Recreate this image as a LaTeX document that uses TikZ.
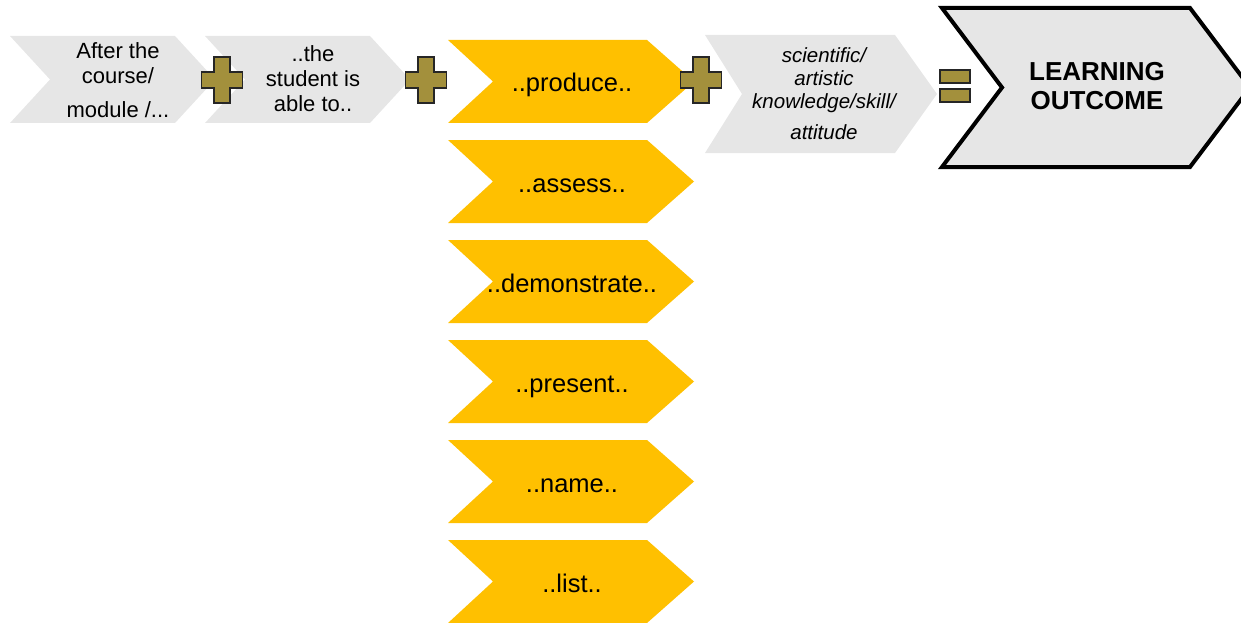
\documentclass[tikz,border=0pt]{standalone}
\usepackage{fontspec}
\setmainfont{Liberation Sans}
\definecolor{chevgray}{RGB}{230,230,230}
\definecolor{chevgold}{RGB}{255,192,0}
\definecolor{plusolive}{RGB}{163,144,60}
\tikzstyle{graybox}=[fill=chevgray]
\tikzstyle{goldbox}=[fill=chevgold]
\tikzstyle{outcomebox}=[fill=chevgray, draw=black, line width=4pt, line join=miter]
\tikzstyle{plusmark}=[fill=plusolive, draw=black!85, line width=1.5pt]
\tikzstyle{graytext}=[font=\fontsize{22}{25}\selectfont, align=center, inner sep=0pt]
\tikzstyle{goldtext}=[font=\fontsize{25.5}{30}\selectfont, inner sep=0pt, anchor=base]
\tikzstyle{italtext}=[font=\fontsize{20.5}{23}\selectfont\itshape, align=center, inner sep=0pt]
\tikzstyle{outtext}=[font=\fontsize{26}{29}\selectfont\bfseries, align=center, inner sep=0pt]
% #1 style, #2 #3 top left, #4 width, #5 height, #6 notch, #7 tip
\newcommand{\chevron}[7]{\path[#1] (#2,#3) -- ++(#4-#7,0) -- ++(#7,#5/2)
  -- ++(-#7,#5/2) -- ++(-#4+#7,0) -- ++(#6,-#5/2) -- cycle;}
\newcommand{\plussign}[1]{\path[plusmark, shift={#1}] (-8,-23) -- (8,-23)
  -- (8,-8) -- (20.5,-8) -- (20.5,8) -- (8,8) -- (8,23) -- (-8,23)
  -- (-8,8) -- (-20.5,8) -- (-20.5,-8) -- (-8,-8) -- cycle;}

\begin{document}
\begin{tikzpicture}[x=1pt, y=-1pt]
\useasboundingbox (0,0) rectangle (1241,623);
\chevron{graybox}{10}{36}{205}{87}{40}{40}
\chevron{graybox}{205}{36}{205}{87}{40}{40}
\foreach \i in {0,...,5}
  \chevron{goldbox}{448}{40+100*\i}{246}{83}{45}{47};
\chevron{graybox}{705}{35}{232}{118}{37}{42}
\chevron{outcomebox}{942}{8}{308}{159}{60}{60}
% operators
\plussign{(222,80)}
\plussign{(426,80)}
\plussign{(701,80)}
\path[plusmark] (940,70) rectangle (970,83) (940,89) rectangle (970,102);
% texts
\node[graytext] (after) at (118,80) {After the\\course/\\[9pt]module /...};
\node[graytext] (student) at (313,79) {..the\\student is\\able to..};
\foreach \word [count=\i from 0] in {produce,assess,demonstrate,present,name,list}
  \node[goldtext] (\word) at (572,92+100*\i) {..\word..};
\node[italtext] (knowledge) at (824,94) {scientific/\\artistic\\knowledge/skill/\\[8pt]attitude};
\node[outtext] (outcome) at (1097,86) {LEARNING\\OUTCOME};
\end{tikzpicture}
\end{document}
